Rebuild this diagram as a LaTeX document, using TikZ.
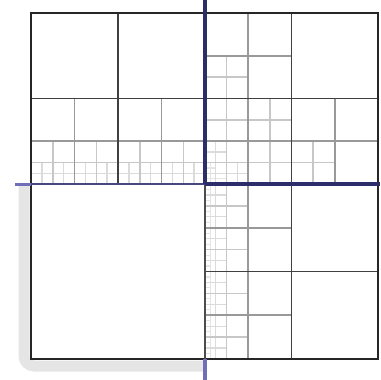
\documentclass[tikz,border=0pt]{standalone}
\definecolor{navy}{RGB}{45,45,105}
\definecolor{navymid}{RGB}{72,72,128}
\definecolor{stubblue}{RGB}{110,110,185}
\tikzset{
 lvA/.style={black!75, line width=1.8pt},
 lvB/.style={black!40, line width=1.8pt},
 lvC/.style={black!22, line width=1.5pt},
 lvD/.style={black!14, line width=1.3pt},
 lvE/.style={black!10, line width=1.1pt},
 frame/.style={black!85, line width=2.6pt},
 shadowL/.style={black!10, line width=11pt, rounded corners=10pt},
}
\begin{document}
\begin{tikzpicture}[x=1pt,y=-1pt]
\useasboundingbox (0,0) rectangle (381,380);
% light gray L-shaped band
\draw[shadowL] (24,184) -- (24,366) -- (205,366);
% ---------- top-left quadrant (refined toward its bottom edge)
\begin{scope}[shift={(31,13)},xscale=174,yscale=171]
 \foreach \x in {1,3,...,15} \draw[lvD] (\x/16,0.875) -- (\x/16,1);
 \draw[lvD] (0,0.9375) -- (1,0.9375);
 \foreach \x in {1,3,5,7} \draw[lvC] (\x/8,0.75) -- (\x/8,1);
 \draw[lvC] (0,0.875) -- (1,0.875);
 \draw[lvB] (0.25,0.5) -- (0.25,1) (0.75,0.5) -- (0.75,1) (0,0.75) -- (1,0.75);
 \draw[lvA] (0.5,0) -- (0.5,1) (0,0.5) -- (1,0.5);
\end{scope}
% ---------- top-right quadrant (refined toward its lower-left corner)
\begin{scope}[shift={(205,13)},xscale=173,yscale=171]
 \draw[lvE] (1/32,0.875) -- (1/32,1) (0,0.96875) -- (0.125,0.96875) (0,0.90625) -- (0.0625,0.90625);
 \draw[lvD] (0.0625,0.75) -- (0.0625,1) (0.1875,0.875) -- (0.1875,1)
            (0,0.8125) -- (0.125,0.8125) (0,0.9375) -- (0.25,0.9375);
 \draw[lvC] (0.125,0.25) -- (0.125,1) (0.375,0.5) -- (0.375,1) (0.625,0.75) -- (0.625,1)
            (0,0.375) -- (0.25,0.375) (0,0.625) -- (0.5,0.625) (0,0.875) -- (0.75,0.875);
 \draw[lvB] (0.25,0) -- (0.25,1) (0.75,0.5) -- (0.75,1)
            (0,0.25) -- (0.5,0.25) (0,0.75) -- (1,0.75);
 \draw[lvA] (0.5,0) -- (0.5,1) (0,0.5) -- (1,0.5);
\end{scope}
% ---------- bottom-right quadrant (refined toward its left edge)
\begin{scope}[shift={(205,184)},xscale=173,yscale=175]
 \foreach \y in {1,3,...,31} \draw[lvE] (0,\y/32) -- (1/32,\y/32);
 \draw[lvE] (1/32,0) -- (1/32,1);
 \foreach \y in {1,3,...,15} \draw[lvD] (0,\y/16) -- (0.125,\y/16);
 \draw[lvD] (0.0625,0) -- (0.0625,1);
 \foreach \y in {1,3,5,7} \draw[lvC] (0,\y/8) -- (0.25,\y/8);
 \draw[lvC] (0.125,0) -- (0.125,1);
 \draw[lvB] (0.25,0) -- (0.25,1) (0,0.25) -- (0.5,0.25) (0,0.75) -- (0.5,0.75);
 \draw[lvA] (0.5,0) -- (0.5,1) (0,0.5) -- (1,0.5);
\end{scope}
% ---------- outer frame
\draw[frame] (31,13) rectangle (378,359);
% ---------- interface lines
\coordinate (vtop) at (205,0);
\coordinate (ctr) at (205,184);
\coordinate (vbot) at (205,359);
\coordinate (vend) at (205,380);
\coordinate (hl) at (15,184);
\coordinate (hbox) at (31,184);
\coordinate (hr) at (380,184);
\draw[black!70, line width=2.6pt] (ctr) -- (vbot);
\draw[stubblue, line width=3.5pt] (vbot) -- (vend);
\draw[stubblue, line width=3pt] (hl) -- (hbox);
\draw[navymid, line width=2.8pt] (hbox) -- (ctr);
\draw[navy, line width=4pt] (ctr) -- (hr);
\draw[navy, line width=3.6pt] (vtop) -- (ctr);
\end{tikzpicture}
\end{document}
